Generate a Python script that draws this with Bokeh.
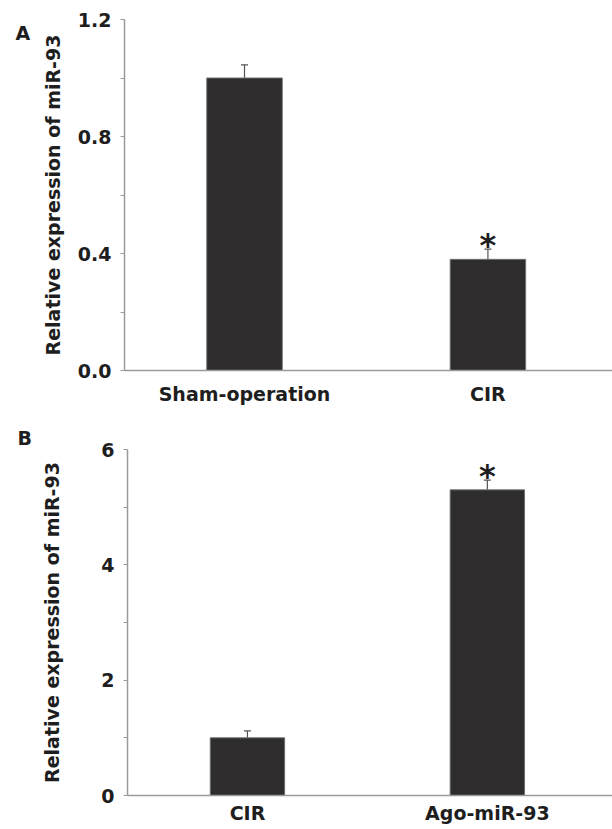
from bokeh.plotting import figure
from bokeh.models import (ColumnDataSource, Range1d, FixedTicker, Whisker, TeeHead, Title)
from bokeh.layouts import column, row
from bokeh.embed import file_html
from bokeh.resources import INLINE
from bokeh.core.properties import value

# ---- data ----
a_groups = ["Sham-operation", "CIR"]
a_means = [1.00, 0.38]
a_errs = [0.045, 0.035]
a_sig = ["", "*"]

b_groups = ["CIR", "Ago-miR-93"]
b_means = [1.00, 5.30]
b_errs = [0.12, 0.17]
b_sig = ["", "*"]

a_yticks = [0.0, 0.4, 0.8, 1.2]
a_yminor = [0.2, 0.6, 1.0]
b_yticks = [0, 2, 4, 6]
b_yminor = [1, 3, 5]

FONT = "DejaVu Sans"
BAR = "#2e2c2d"
AX = "#9a9a9a"
TXT = "#1e1e1e"
LETTER_W = 38


def letter_in_frame(letter, lx, top, frame_h, bottom):
    # letter drawn inside the (row-aligned) frame, baseline just under its top
    f = figure(width=LETTER_W, height=top + frame_h + bottom, output_backend="svg",
               toolbar_location=None, x_axis_type=None, y_axis_type=None,
               x_range=Range1d(0, LETTER_W), y_range=Range1d(0, frame_h),
               min_border_top=top, min_border_bottom=bottom,
               min_border_left=0, min_border_right=0, align="start")
    f.outline_line_color = None
    f.grid.visible = False
    f.text(x=[lx], y=[frame_h - 13], text=[letter], text_font=value(FONT),
           text_font_style="bold", text_font_size="19px",
           text_color=TXT, text_baseline="alphabetic", text_align="left")
    return f


def letter_title(letter, lx, h):
    f = figure(width=LETTER_W, height=h, output_backend="svg",
               toolbar_location=None, x_axis_type=None, y_axis_type=None,
               x_range=Range1d(0, 1), y_range=Range1d(0, 1),
               min_border=0, align="start")
    f.outline_line_color = None
    f.grid.visible = False
    f.title = Title(text=letter, align="left", offset=lx, standoff=1,
                    text_font=FONT, text_font_style="bold",
                    text_font_size="19px", text_color=TXT)
    return f


def panel(groups, means, errs, sig, yticks, yminor, ymax,
          frame_w, frame_h, top, bottom, left, xr, label_standoff, x_standoff,
          y_fmt):
    x = [i + 1 for i in range(len(groups))]
    src = ColumnDataSource(dict(
        x=x, top=means, upper=[m + e for m, e in zip(means, errs)], sig=sig))
    p = figure(frame_width=frame_w, frame_height=frame_h, output_backend="svg",
               toolbar_location=None, x_range=Range1d(*xr),
               y_range=Range1d(0, ymax),
               min_border_top=top, min_border_bottom=bottom,
               min_border_left=left, min_border_right=0, align="start")
    p.outline_line_color = None
    p.grid.visible = False
    p.background_fill_color = "white"

    p.vbar(x="x", top="top", bottom=0, width=0.31, source=src,
           fill_color=BAR, line_color="#6f6f6f", line_width=1)
    w = Whisker(base="x", lower="top", upper="upper", source=src,
                dimension="height", line_color="#555555", line_width=1.2,
                upper_head=TeeHead(size=7, line_color="#555555", line_width=1.2),
                lower_head=None)
    p.add_layout(w)
    p.text(x="x", y="upper", text="sig", source=src,
           text_font=value(FONT), text_font_style="bold",
           text_font_size="32px", text_color=TXT,
           text_align="center", text_baseline="middle", y_offset=-4)

    # y axis
    yax = p.yaxis[0]
    yax.ticker = FixedTicker(ticks=yticks, minor_ticks=yminor)
    yax.major_label_overrides = {t: y_fmt.format(t) for t in yticks}
    yax.axis_label = "Relative expression of miR-93"
    yax.axis_label_text_font = FONT
    yax.axis_label_text_font_style = "bold"
    yax.axis_label_text_font_size = "19px"
    yax.axis_label_text_color = TXT
    yax.axis_label_standoff = label_standoff
    yax.major_label_text_font = FONT
    yax.major_label_text_font_style = "bold"
    yax.major_label_text_font_size = "19px"
    yax.major_label_text_color = TXT
    yax.major_label_standoff = 9
    yax.axis_line_color = AX
    yax.axis_line_width = 1.5
    yax.major_tick_line_color = AX
    yax.minor_tick_line_color = AX
    yax.major_tick_in = 0
    yax.major_tick_out = 4
    yax.minor_tick_in = 0
    yax.minor_tick_out = 4

    # x axis
    xax = p.xaxis[0]
    xax.ticker = FixedTicker(ticks=x, minor_ticks=[])
    xax.major_label_overrides = {xi: g for xi, g in zip(x, groups)}
    xax.major_label_text_font = FONT
    xax.major_label_text_font_style = "bold"
    xax.major_label_text_font_size = "19px"
    xax.major_label_text_color = TXT
    xax.major_label_standoff = x_standoff
    xax.axis_line_color = AX
    xax.axis_line_width = 1.5
    xax.major_tick_line_color = None
    xax.minor_tick_line_color = None
    return p


A_TOP, A_FH, A_BOT = 19, 351, 38
B_TOP, B_FH, B_BOT = 41, 346, 26

pa = panel(a_groups, a_means, a_errs, a_sig, a_yticks, a_yminor, 1.2,
           frame_w=490, frame_h=A_FH, top=A_TOP, bottom=A_BOT,
           left=122 - LETTER_W, xr=(0.507, 2.52), label_standoff=11,
           x_standoff=6, y_fmt="{:.1f}")
pb = panel(b_groups, b_means, b_errs, b_sig, b_yticks, b_yminor, 6,
           frame_w=487, frame_h=B_FH, top=B_TOP, bottom=B_BOT,
           left=125 - LETTER_W, xr=(0.5, 2.53), label_standoff=35,
           x_standoff=0, y_fmt="{:.0f}")

la = letter_in_frame("A", 15, A_TOP, A_FH, A_BOT)
lb = letter_title("B", 17, B_TOP + B_FH + B_BOT)

layout = column(row(la, pa, spacing=0), row(lb, pb, spacing=0), spacing=0)
open("out.html", "w").write(file_html(layout, INLINE))
